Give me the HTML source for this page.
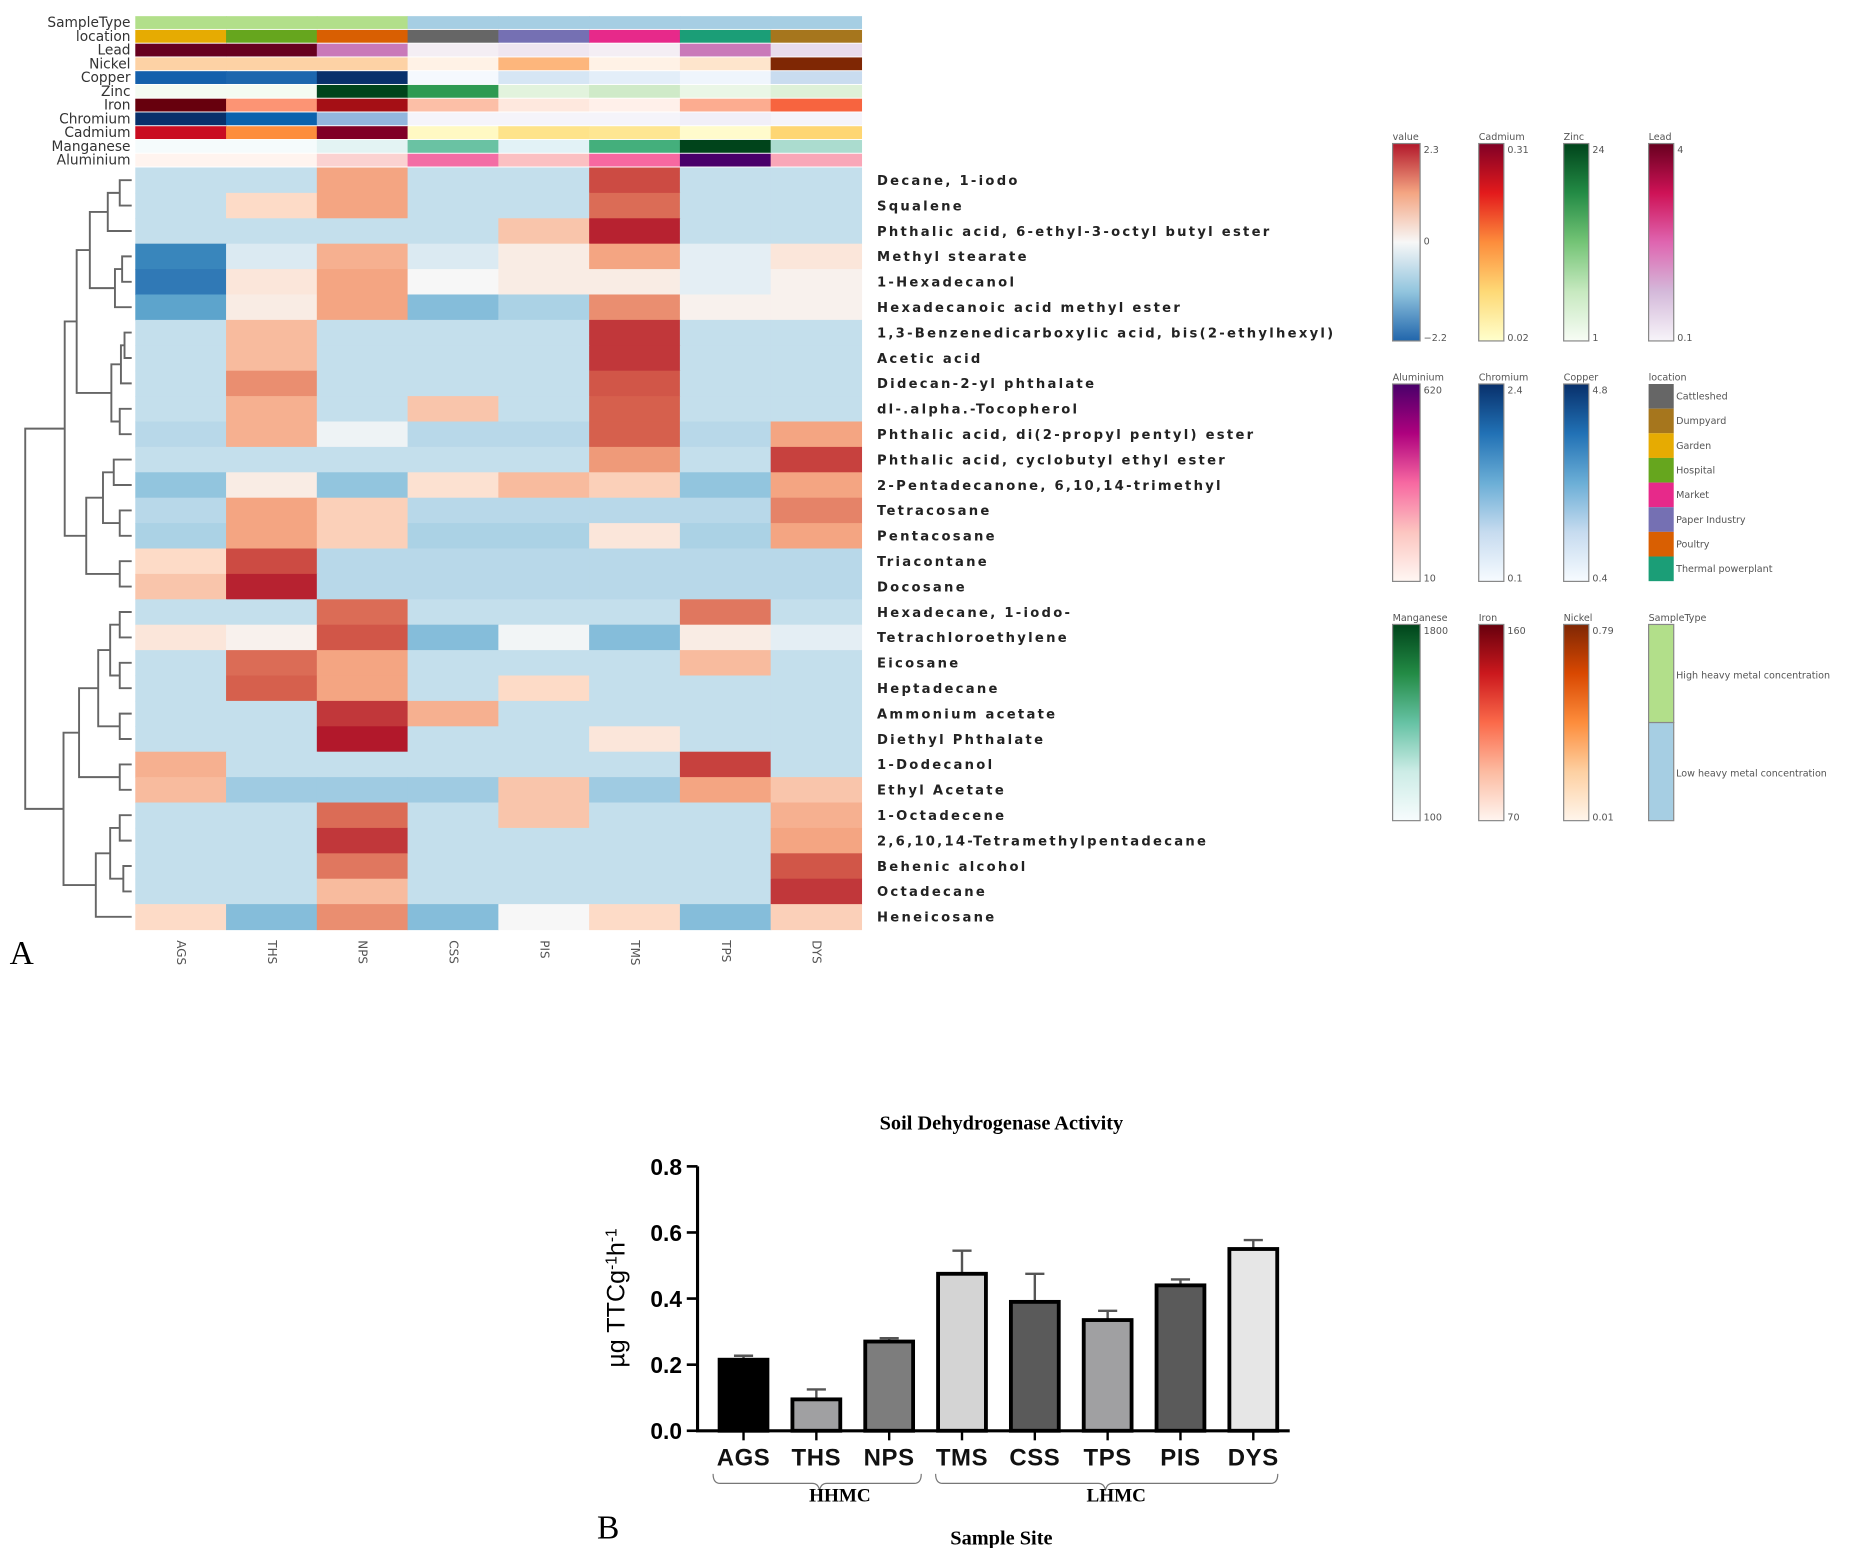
<!DOCTYPE html>
<html><head><meta charset="utf-8"><style>
html,body{margin:0;padding:0;background:#fff;}
svg{display:block;}
</style></head><body>
<svg id="fig" xmlns="http://www.w3.org/2000/svg" width="1876" height="1548" viewBox="0 0 1568 1294">
<rect x="0" y="0" width="1568" height="1294" fill="#fff"/>
<g id="heat"></g>
<g id="dend"></g>
<g id="legends"></g>
<g id="bars"></g>
<text x="8" y="806" font-family="Liberation Serif, serif" font-size="28">A</text>
<text x="499" y="1286" font-family="Liberation Serif, serif" font-size="28">B</text>
</svg>
<script>
// ---------- Heatmap data ----------
const sites = ["AGS","THS","NPS","CSS","PIS","TMS","TPS","DYS"];
const compounds = ["Decane, 1-iodo","Squalene","Phthalic acid, 6-ethyl-3-octyl butyl ester","Methyl stearate","1-Hexadecanol","Hexadecanoic acid methyl ester","1,3-Benzenedicarboxylic acid, bis(2-ethylhexyl)","Acetic acid","Didecan-2-yl phthalate","dl-.alpha.-Tocopherol","Phthalic acid, di(2-propyl pentyl) ester","Phthalic acid, cyclobutyl ethyl ester","2-Pentadecanone, 6,10,14-trimethyl","Tetracosane","Pentacosane","Triacontane","Docosane","Hexadecane, 1-iodo-","Tetrachloroethylene","Eicosane","Heptadecane","Ammonium acetate","Diethyl Phthalate","1-Dodecanol","Ethyl Acetate","1-Octadecene","2,6,10,14-Tetramethylpentadecane","Behenic alcohol","Octadecane","Heneicosane"];
const zValues = [
[-0.5,-0.5,1.0,-0.5,-0.5,1.8,-0.5,-0.5],
[-0.5,0.5,1.0,-0.5,-0.5,1.5,-0.5,-0.5],
[-0.5,-0.5,-0.5,-0.5,0.7,2.2,-0.5,-0.5],
[-1.7,-0.3,0.9,-0.3,0.2,1.0,-0.2,0.3],
[-1.9,0.3,1.0,0.0,0.2,0.2,-0.2,0.1],
[-1.3,0.2,1.0,-1.0,-0.7,1.2,0.1,0.1],
[-0.5,0.8,-0.5,-0.5,-0.5,2.0,-0.5,-0.5],
[-0.5,0.8,-0.5,-0.5,-0.5,2.0,-0.5,-0.5],
[-0.5,1.2,-0.5,-0.5,-0.5,1.7,-0.5,-0.5],
[-0.5,0.9,-0.5,0.7,-0.5,1.6,-0.5,-0.5],
[-0.6,0.9,-0.1,-0.6,-0.6,1.6,-0.6,1.0],
[-0.5,-0.5,-0.5,-0.5,-0.5,1.1,-0.5,1.9],
[-0.9,0.2,-0.9,0.4,0.8,0.6,-0.9,1.0],
[-0.6,1.0,0.6,-0.6,-0.6,-0.6,-0.6,1.3],
[-0.7,1.0,0.6,-0.7,-0.7,0.3,-0.7,1.0],
[0.5,1.8,-0.6,-0.6,-0.6,-0.6,-0.6,-0.6],
[0.7,2.2,-0.6,-0.6,-0.6,-0.6,-0.6,-0.6],
[-0.5,-0.5,1.5,-0.5,-0.5,-0.5,1.4,-0.5],
[0.3,0.1,1.7,-1.0,-0.05,-1.0,0.2,-0.2],
[-0.5,1.5,1.0,-0.5,-0.5,-0.5,0.8,-0.5],
[-0.5,1.6,1.0,-0.5,0.5,-0.5,-0.5,-0.5],
[-0.5,-0.5,2.0,0.9,-0.5,-0.5,-0.5,-0.5],
[-0.5,-0.5,2.3,-0.5,-0.5,0.3,-0.5,-0.5],
[0.9,-0.5,-0.5,-0.5,-0.5,-0.5,1.9,-0.5],
[0.8,-0.8,-0.8,-0.8,0.7,-0.8,1.0,0.7],
[-0.5,-0.5,1.5,-0.5,0.7,-0.5,-0.5,0.9],
[-0.5,-0.5,2.0,-0.5,-0.5,-0.5,-0.5,1.0],
[-0.5,-0.5,1.4,-0.5,-0.5,-0.5,-0.5,1.7],
[-0.5,-0.5,0.8,-0.5,-0.5,-0.5,-0.5,2.0],
[0.5,-1.0,1.2,-1.0,0.0,0.5,-1.0,0.6]
];
const annoNames = ["SampleType","location","Lead","Nickel","Copper","Zinc","Iron","Chromium","Cadmium","Manganese","Aluminium"];
const annoColors = [
["#b2df8a","#b2df8a","#b2df8a","#a6cee3","#a6cee3","#a6cee3","#a6cee3","#a6cee3"],
["#e6ab02","#66a61e","#d95f02","#666666","#7570b3","#e7298a","#1b9e77","#a6761d"],
["#67001f","#67001f","#c979b9","#f4eef4","#efe6f0","#f4eef4","#c979b9","#e8dcec"],
["#fdd2a5","#fdd2a5","#fdd2a5","#fff2e6","#fdb67c","#fff2e6","#fee5cc","#7f2704"],
["#1460ac","#1c66ae","#08306b","#f5f9fe","#d6e6f4","#e3eef9","#eff5fc","#c9dcef"],
["#f4fbf2","#f4fbf2","#00441b","#2e9a52","#e2f3dd","#cfeac8","#eaf6e6","#def1d8"],
["#67000d","#fc9474","#a50f15","#fcbfa7","#fee8de","#fff0ea","#fcac90","#f7643f"],
["#08306b","#0b62ad","#93b6dd","#f5f4fa","#f5f4fa","#f5f4fa","#f1eff8","#f5f4fa"],
["#c90d21","#fd8d3c","#800026","#fff9c3","#fee38a","#fee692","#fffbcc","#fed673"],
["#f5fbfc","#f5fbfc","#e3f3f3","#6ac2a3","#e2f2f6","#44af7c","#00441b","#abdccf"],
["#fff4ef","#fff4ef","#fbd2d1","#f36da5","#fbc0c2","#f768a1","#49006a","#f9a7b8"]
];
// ---------- Bar chart data ----------
const barCategories = ["AGS","THS","NPS","TMS","CSS","TPS","PIS","DYS"];
const barMeans = [0.215,0.095,0.27,0.475,0.39,0.335,0.44,0.55];
const barErrors = [0.012,0.03,0.01,0.07,0.085,0.028,0.018,0.027];
const barFills = ["#000000","#a0a0a2","#7d7d7d","#d4d4d4","#5a5a5a","#a0a0a2","#5a5a5a","#e6e6e6"];
const yTicks = [0.0,0.2,0.4,0.6,0.8];

const NS = "http://www.w3.org/2000/svg";
function mk(tag, attrs, parent){const e=document.createElementNS(NS,tag);for(const k in attrs)e.setAttribute(k,attrs[k]);parent.appendChild(e);return e;}
function hex(h){return [parseInt(h.substr(1,2),16),parseInt(h.substr(3,2),16),parseInt(h.substr(5,2),16)];}
const stops=[[-2.2,"#2166ac"],[-1.5,"#4393c3"],[-0.9,"#92c5de"],[-0.4,"#d1e5f0"],[0,"#f7f7f7"],[0.5,"#fddbc7"],[1.0,"#f4a582"],[1.6,"#d6604d"],[2.3,"#b2182b"]];
function cmap(v){if(v<=stops[0][0])return stops[0][1];for(let i=1;i<stops.length;i++){if(v<=stops[i][0]){const t=(v-stops[i-1][0])/(stops[i][0]-stops[i-1][0]);const a=hex(stops[i-1][1]),b=hex(stops[i][1]);return "rgb("+a.map((c,j)=>Math.round(c+(b[j]-c)*t)).join(",")+")";}}return stops[stops.length-1][1];}

const hx0=113, hx1=720, hy0=140, hy1=777;
const colW=(hx1-hx0)/sites.length, rowH=(hy1-hy0)/compounds.length;
const colX=i=>hx0+i*colW, rowY=i=>hy0+i*rowH;
const annoY0=13.5, annoH=(hy0-annoY0)/annoNames.length;

const heat=document.getElementById("heat");
annoNames.forEach((n,r)=>{
  annoColors[r].forEach((c,j)=>{
    const el=mk("rect",{x:colX(j),y:annoY0+r*annoH,width:colW+0.5,height:annoH-0.8,fill:c},heat);
    
    
  });
  const t=mk("text",{x:109,y:annoY0+r*annoH+annoH*0.8,"text-anchor":"end","font-family":"DejaVu Sans, sans-serif","font-size":11.5,fill:"#333"},heat);
  t.textContent=n;
  
  
});
zValues.forEach((row,r)=>{
  row.forEach((v,j)=>{
    const el=mk("rect",{x:colX(j),y:rowY(r),width:colW+0.5,height:rowH+0.5,fill:cmap(v)},heat);
    
    
  });
  const t=mk("text",{x:733,y:rowY(r)+rowH/2+4,"font-family":"DejaVu Sans, sans-serif","font-weight":"600","font-size":11,"letter-spacing":"1.9",fill:"#222"},heat);
  t.textContent=compounds[r];
  
  
});
sites.forEach((s,j)=>{
  const cx=colX(j)+colW/2;
  const t=mk("text",{x:cx,y:786,transform:"rotate(90 "+cx+" 786)","font-family":"DejaVu Sans, sans-serif","font-size":10,fill:"#555","dominant-baseline":"middle"},heat);
  t.textContent=s;
  
  
});

const tree=[21,
  [54,
    [64,[75,[90,[100,0,1],2],[96,[102,3,4],5]],[93,[101,[104,6,7],8],[100,9,10]]],
    [72,[86,[95,11,12],[100,13,14]],[100,15,16]]],
  [53,
    [66,[82,[92,[100,17,18],[100,19,20]],[100,21,22]],[100,23,24]],
    [80,[92,[100,25,26],[103,27,28]],29]]];
const dend=document.getElementById("dend");
const leafX=110;
function draw(n){
  if(typeof n==="number") return {x:leafX,y:rowY(n)+rowH/2};
  const a=draw(n[1]),b=draw(n[2]),x=n[0];
  let d="M"+a.x+","+a.y+"H"+x+"V"+b.y+"H"+b.x;
  const p=mk("path",{d:d,fill:"none",stroke:"#666","stroke-width":1.6},dend);
  
  
  return {x:x,y:(a.y+b.y)/2};
}
draw(tree);

const lg=document.getElementById("legends");
const defs=mk("defs",{},lg);
function grad(id,cols){const g=mk("linearGradient",{id:id,x1:0,y1:0,x2:0,y2:1},defs);cols.forEach((c,i)=>mk("stop",{offset:(i/(cols.length-1)),"stop-color":c},g));}
grad("gv",["#b2182b","#f4a582","#f7f7f7","#92c5de","#2166ac"]);
grad("gcd",["#800026","#e31a1c","#fd8d3c","#fed976","#ffffcc"]);
grad("gzn",["#00441b","#238b45","#74c476","#c7e9c0","#f7fcf5"]);
grad("gpb",["#67001f","#ce1256","#df65b0","#d4b9da","#f7f4f9"]);
grad("gal",["#49006a","#ae017e","#f768a1","#fcc5c0","#fff7f3"]);
grad("gcr",["#08306b","#2171b5","#6baed6","#c6dbef","#f7fbff"]);
grad("gcu",["#08306b","#2171b5","#6baed6","#c6dbef","#f7fbff"]);
grad("gmn",["#00441b","#238b45","#66c2a4","#ccece6","#f7fcfd"]);
grad("gfe",["#67000d","#cb181d","#fb6a4a","#fcbba1","#fff5f0"]);
grad("gni",["#7f2704","#d94801","#fd8d3c","#fdd0a2","#fff5eb"]);
const lf={"font-family":"DejaVu Sans, sans-serif","font-size":8,fill:"#555"};
function bar(x,y0,y1,w,title,gid,top,bot,mid){
  const t=mk("text",Object.assign({x:x,y:y0-3},lf),lg);t.textContent=title;
  
  
  const r=mk("rect",{x:x,y:y0,width:w,height:y1-y0,fill:"url(#"+gid+")",stroke:"#888","stroke-width":1},lg);
  
  
  const a=mk("text",Object.assign({x:x+w+3,y:y0+8},lf),lg);a.textContent=top;
  
  
  const b=mk("text",Object.assign({x:x+w+3,y:y1},lf),lg);b.textContent=bot;
  
  
  if(mid){const m=mk("text",Object.assign({x:x+w+3,y:(y0+y1)/2+2},lf),lg);m.textContent=mid;
  
  }
}
bar(1164,120,285,23,"value","gv","2.3","−2.2","0");
bar(1236,120,285,21,"Cadmium","gcd","0.31","0.02");
bar(1307,120,285,21,"Zinc","gzn","24","1");
bar(1378,120,285,21,"Lead","gpb","4","0.1");
bar(1164,321,486,23,"Aluminium","gal","620","10");
bar(1236,321,486,21,"Chromium","gcr","2.4","0.1");
bar(1307,321,486,21,"Copper","gcu","4.8","0.4");
bar(1164,522,686,23,"Manganese","gmn","1800","100");
bar(1236,522,686,21,"Iron","gfe","160","70");
bar(1307,522,686,21,"Nickel","gni","0.79","0.01");
const locNames=["Cattleshed","Dumpyard","Garden","Hospital","Market","Paper Industry","Poultry","Thermal powerplant"];
const locCols=["#666666","#a6761d","#e6ab02","#66a61e","#e7298a","#7570b3","#d95f02","#1b9e77"];
{const t=mk("text",Object.assign({x:1378,y:318},lf),lg);t.textContent="location";

}
locNames.forEach((n,i)=>{
  const y=321+i*20.6;
  const r=mk("rect",{x:1378,y:y,width:21,height:20.6,fill:locCols[i]},lg);
  
  
  const t=mk("text",Object.assign({x:1401,y:y+13},lf),lg);t.textContent=n;
  
  
});
{const t=mk("text",Object.assign({x:1378,y:519},lf),lg);t.textContent="SampleType";


const r1=mk("rect",{x:1378,y:522,width:21,height:82,fill:"#b2df8a",stroke:"#888"},lg);


const r2=mk("rect",{x:1378,y:604,width:21,height:82,fill:"#a6cee3",stroke:"#888"},lg);


const a=mk("text",Object.assign({x:1401,y:567},lf),lg);a.textContent="High heavy metal concentration";


const b=mk("text",Object.assign({x:1401,y:649},lf),lg);b.textContent="Low heavy metal concentration";

}

const bg=document.getElementById("bars");
const ax0=583, ax1=1078, ay0=1196, ay1=975, yMax=0.8;
const ys=v=>ay0-(v/yMax)*(ay0-ay1);
const step=(ax1-ax0-8)/barCategories.length;
const xs=i=>ax0+8+step*(i+0.5);
const bw=40;
{const t=mk("text",{x:837,y:944,"text-anchor":"middle","font-family":"Liberation Serif, serif","font-weight":"bold","font-size":17},bg);t.textContent="Soil Dehydrogenase Activity";

}
barCategories.forEach((c,i)=>{
  const x=xs(i), top=ys(barMeans[i]), et=ys(barMeans[i]+barErrors[i]);
  const e=mk("path",{d:"M"+x+","+top+"V"+et+"M"+(x-8)+","+et+"H"+(x+8),stroke:"#555","stroke-width":2,fill:"none"},bg);
  
  
  const r=mk("rect",{x:x-bw/2,y:top,width:bw,height:ay0-top,fill:barFills[i],stroke:"#000","stroke-width":3.2},bg);
  
  
  const tk=mk("line",{x1:x,y1:ay0,x2:x,y2:ay0+8,stroke:"#000","stroke-width":2},bg);
  
  
  const t=mk("text",{x:x,y:1225,"text-anchor":"middle","font-family":"Liberation Sans, sans-serif","font-weight":"bold","font-size":20,"letter-spacing":"0.5",fill:"#111"},bg);t.textContent=c;
  
  
});
yTicks.forEach(v=>{
  const y=ys(v);
  const l=mk("line",{x1:ax0-9,y1:y,x2:ax0,y2:y,stroke:"#000","stroke-width":2.2},bg);
  
  
  const t=mk("text",{x:ax0-13,y:y+7,"text-anchor":"end","font-family":"Liberation Sans, sans-serif","font-weight":"bold","font-size":19},bg);t.textContent=v.toFixed(1);
  
  
});
{const a=mk("path",{d:"M"+ax0+","+ay1+"V"+ay0+"H"+ax1,stroke:"#000","stroke-width":2.6,fill:"none"},bg);


const yl=mk("text",{x:522,y:1085,transform:"rotate(-90 522 1085)","text-anchor":"middle","font-family":"Liberation Sans, sans-serif","font-size":21},bg);
yl.innerHTML='µg TTCg<tspan baseline-shift="super" font-size="13">-1</tspan>h<tspan baseline-shift="super" font-size="13">-1</tspan>';


const b1=mk("path",{d:"M596,1232 q0,8 6,8 H679 q5,0 6,6 q1,-6 6,-6 H764 q6,0 6,-8",stroke:"#777","stroke-width":1,fill:"none"},bg);


const b2=mk("path",{d:"M782,1232 q0,8 6,8 H918 q5,0 6,6 q1,-6 6,-6 H1062 q6,0 6,-8",stroke:"#777","stroke-width":1,fill:"none"},bg);


const g1=mk("text",{x:702,y:1255,"text-anchor":"middle","font-family":"Liberation Serif, serif","font-weight":"bold","font-size":16},bg);g1.textContent="HHMC";


const g2=mk("text",{x:933,y:1255,"text-anchor":"middle","font-family":"Liberation Serif, serif","font-weight":"bold","font-size":16},bg);g2.textContent="LHMC";


const xl=mk("text",{x:837,y:1291,"text-anchor":"middle","font-family":"Liberation Serif, serif","font-weight":"bold","font-size":17},bg);xl.textContent="Sample Site";

}
</script>
</body></html>
